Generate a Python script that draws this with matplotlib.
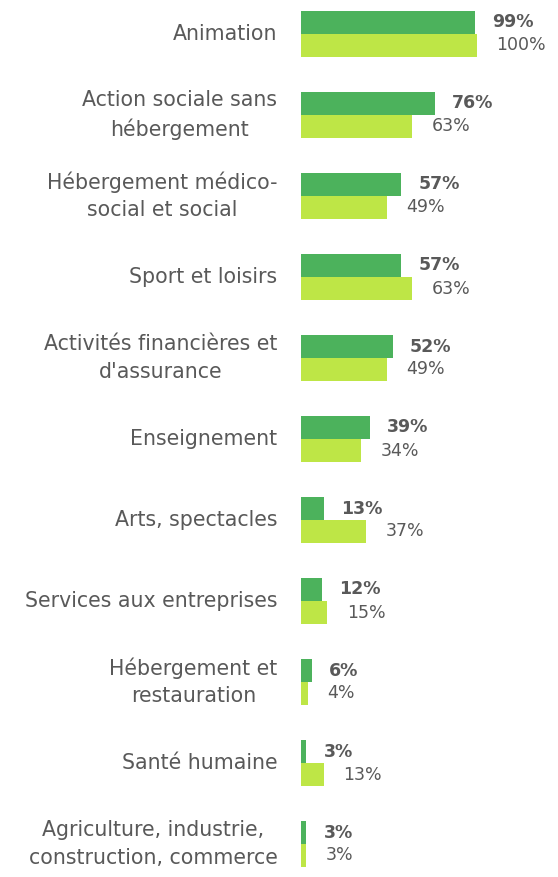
import matplotlib.pyplot as plt

categories = [
    'Animation',
    'Action sociale sans\nhébergement',
    'Hébergement médico-\nsocial et social',
    'Sport et loisirs',
    'Activités financières et\nd\'assurance',
    'Enseignement',
    'Arts, spectacles',
    'Services aux entreprises',
    'Hébergement et\nrestauration',
    'Santé humaine',
    'Agriculture, industrie,\nconstruction, commerce',
]
serie_fonce = [99, 76, 57, 57, 52, 39, 13, 12, 6, 3, 3]
serie_clair = [100, 63, 49, 63, 49, 34, 37, 15, 4, 13, 3]

vert_fonce = '#4cb25c'
vert_clair = '#bee646'
gris = '#595959'

plt.rcParams['font.family'] = ['DejaVu Sans']

W, H = 558, 877
fig = plt.figure(figsize=(W / 100, H / 100), dpi=100)
x0 = 301
ax = fig.add_axes([x0 / W, 0, (W - x0) / W, 1])

pitch = 81
top = 34
ax.set_xlim(0, (W - x0) / 176 * 100)
ax.set_ylim((H - top) / pitch, -top / pitch)

h = 23 / pitch
pos = list(range(len(categories)))
ax.barh([p - h / 2 for p in pos], serie_fonce, height=h, color=vert_fonce)
ax.barh([p + h / 2 for p in pos], serie_clair, height=h, color=vert_clair)

for p, v1, v2 in zip(pos, serie_fonce, serie_clair):
    ax.annotate(f'{v1}%', (v1, p - h / 2), xytext=(12.5, 0), textcoords='offset points',
                va='center', ha='left', fontsize=12.5, fontweight='bold', color=gris)
    ax.annotate(f'{v2}%', (v2, p + h / 2), xytext=(14, 0), textcoords='offset points',
                va='center', ha='left', fontsize=12.5, color=gris)
    ax.annotate(categories[p], (0, p), xytext=(-17, 0), textcoords='offset points',
                va='center', ha='right', multialignment='center',
                fontsize=14.8, color=gris, linespacing=1.45)

ax.axis('off')
fig.savefig('out.png', dpi=100)
